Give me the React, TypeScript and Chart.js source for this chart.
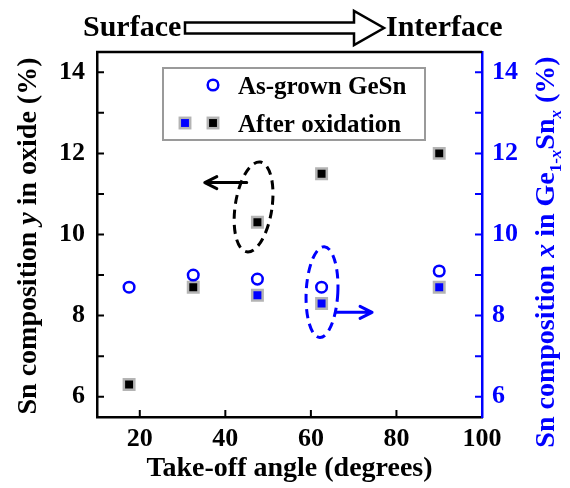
import React, { useEffect, useRef } from "react";
import { Chart, registerables } from "chart.js";

Chart.register(...registerables);

// ---- data ----
const angles = [17.5, 32.5, 47.5, 62.5, 90];
const asGrownX = [8.7, 9.0, 8.9, 8.7, 9.1];
const oxideY = [6.3, 8.7, 10.3, 11.5, 12.0];
const oxidizedAngles = [47.5, 62.5, 90];
const oxidizedX = [8.5, 8.3, 8.7];

const xTicks = [20, 40, 60, 80, 100];
const yTicks = [6, 8, 10, 12, 14];
const yMinorTicks = [6, 7, 8, 9, 10, 11, 12, 13, 14];

// annotation geometry (data units)
const leftEllipse = { x: 46.6, y: 10.68, rx: 4.3, ry: 1.12, rot: 0.15 };
const leftArrow = { y: 11.28, from: 45.0, to: 35.2 };
const rightEllipse = { x: 62.6, y: 8.58, rx: 3.7, ry: 1.12, rot: 0.05 };
const rightArrow = { y: 8.08, from: 66.0, to: 74.3 };

const BLUE = "#0000ff";
const FONT = '"Liberation Serif", "Times New Roman", serif';

type Seg = { t: string; it?: boolean; sub?: boolean };

function drawRich(ctx: CanvasRenderingContext2D, segs: Seg[], cx: number, cy: number, size: number, color: string) {
  const subSize = Math.round(size * 0.62);
  const fontOf = (s: Seg) => `${s.it ? "italic " : ""}bold ${s.sub ? subSize : size}px ${FONT}`;
  let total = 0;
  const widths = segs.map((s) => {
    ctx.font = fontOf(s);
    const w = ctx.measureText(s.t).width;
    total += w;
    return w;
  });
  ctx.save();
  ctx.translate(cx, cy);
  ctx.rotate(-Math.PI / 2);
  ctx.fillStyle = color;
  ctx.textBaseline = "alphabetic";
  ctx.textAlign = "left";
  let x = -total / 2;
  const base = size * 0.33;
  segs.forEach((s, i) => {
    ctx.font = fontOf(s);
    ctx.fillText(s.t, x, base + (s.sub ? size * 0.25 : 0));
    x += widths[i];
  });
  ctx.restore();
}

const decorPlugin = {
  id: "decor",
  afterDraw(chart: any) {
    const ctx: CanvasRenderingContext2D = chart.ctx;
    const xs = chart.scales.x;
    const yl = chart.scales.yL;
    const yr = chart.scales.yR;
    const area = chart.chartArea;

    ctx.save();
    // top frame line
    ctx.strokeStyle = "#000";
    ctx.lineWidth = 2.5;
    ctx.beginPath();
    ctx.moveTo(area.left - 1, area.top);
    ctx.lineTo(area.right, area.top);
    ctx.stroke();

    // inward ticks
    ctx.lineWidth = 2;
    ctx.beginPath();
    yMinorTicks.forEach((v) => {
      const p = yl.getPixelForValue(v);
      ctx.moveTo(area.left, p);
      ctx.lineTo(area.left + 7, p);
    });
    xTicks.forEach((v) => {
      if (v >= 100) return;
      const p = xs.getPixelForValue(v);
      ctx.moveTo(p, area.bottom);
      ctx.lineTo(p, area.bottom - 7);
    });
    ctx.stroke();
    ctx.strokeStyle = BLUE;
    ctx.beginPath();
    yMinorTicks.forEach((v) => {
      const p = yr.getPixelForValue(v);
      ctx.moveTo(area.right, p);
      ctx.lineTo(area.right - 7, p);
    });
    ctx.stroke();

    // dashed ellipses + arrows
    const drawEllipse = (e: any, color: string) => {
      const cx = xs.getPixelForValue(e.x);
      const cy = yl.getPixelForValue(e.y);
      const rx = Math.abs(xs.getPixelForValue(e.x + e.rx) - cx);
      const ry = Math.abs(yl.getPixelForValue(e.y + e.ry) - cy);
      ctx.save();
      ctx.strokeStyle = color;
      ctx.lineWidth = 3;
      ctx.setLineDash([9, 6]);
      ctx.beginPath();
      ctx.ellipse(cx, cy, rx, ry, e.rot, 0, Math.PI * 2);
      ctx.stroke();
      ctx.restore();
    };
    const drawArrow = (a: any, color: string) => {
      const y = yl.getPixelForValue(a.y);
      const x1 = xs.getPixelForValue(a.from);
      const x2 = xs.getPixelForValue(a.to);
      const dir = x2 > x1 ? 1 : -1;
      ctx.save();
      ctx.strokeStyle = color;
      ctx.lineWidth = 3;
      ctx.lineCap = "round";
      ctx.lineJoin = "round";
      ctx.beginPath();
      ctx.moveTo(x1, y);
      ctx.lineTo(x2, y);
      ctx.moveTo(x2 - dir * 12, y - 6);
      ctx.lineTo(x2, y);
      ctx.lineTo(x2 - dir * 12, y + 6);
      ctx.stroke();
      ctx.restore();
    };
    drawEllipse(leftEllipse, "#000");
    drawArrow(leftArrow, "#000");
    drawEllipse(rightEllipse, BLUE);
    drawArrow(rightArrow, BLUE);

    // legend
    ctx.strokeStyle = "#9a9a9a";
    ctx.lineWidth = 2;
    ctx.strokeRect(163, 68, 262, 72);
    ctx.strokeStyle = BLUE;
    ctx.lineWidth = 2.5;
    ctx.beginPath();
    ctx.arc(213, 85, 5.3, 0, Math.PI * 2);
    ctx.stroke();
    const sq = (x: number, y: number, fill: string) => {
      ctx.fillStyle = fill;
      ctx.fillRect(x - 5.2, y - 5.2, 10.4, 10.4);
      ctx.strokeStyle = "#b4b4b4";
      ctx.lineWidth = 2.5;
      ctx.strokeRect(x - 5.2, y - 5.2, 10.4, 10.4);
    };
    sq(185, 123, BLUE);
    sq(213, 123, "#000");
    ctx.fillStyle = "#000";
    ctx.font = `bold 25px ${FONT}`;
    ctx.textAlign = "left";
    ctx.textBaseline = "alphabetic";
    ctx.fillText("As-grown GeSn", 238, 93.5);
    ctx.fillText("After oxidation", 238, 131.5);

    // header
    ctx.font = `bold 30px ${FONT}`;
    ctx.fillText("Surface", 83, 36);
    ctx.fillText("Interface", 386, 36);
    ctx.beginPath();
    ctx.moveTo(185, 22.5);
    ctx.lineTo(354, 22.5);
    ctx.lineTo(354, 11);
    ctx.lineTo(384, 28);
    ctx.lineTo(354, 45);
    ctx.lineTo(354, 33.5);
    ctx.lineTo(185, 33.5);
    ctx.closePath();
    ctx.fillStyle = "#fff";
    ctx.fill();
    ctx.strokeStyle = "#000";
    ctx.lineWidth = 2.5;
    ctx.stroke();

    // y titles
    drawRich(ctx, [{ t: "Sn composition " }, { t: "y", it: true }, { t: " in oxide (%)" }], 27, 236, 28, "#000");
    drawRich(
      ctx,
      [
        { t: "Sn composition " },
        { t: "x", it: true },
        { t: " in Ge" },
        { t: "1-", sub: true },
        { t: "x", sub: true, it: true },
        { t: "Sn" },
        { t: "x", sub: true, it: true },
        { t: " (%)" },
      ],
      545,
      252,
      28,
      BLUE
    );
    ctx.restore();
  },
};

export default function App() {
  const ref = useRef<HTMLCanvasElement | null>(null);
  useEffect(() => {
    if (!ref.current) return;
    const tickFont = { family: FONT, size: 26, weight: "bold" as const };
    const chart = new Chart(ref.current, {
      type: "scatter",
      data: {
        datasets: [
          {
            label: "As-grown GeSn",
            data: angles.map((a, i) => ({ x: a, y: asGrownX[i] })),
            yAxisID: "yR",
            pointStyle: "circle",
            pointRadius: 5.3,
            borderWidth: 2.5,
            borderColor: BLUE,
            backgroundColor: "rgba(0,0,0,0)",
          },
          {
            label: "After oxidation (GeSn)",
            data: oxidizedAngles.map((a, i) => ({ x: a, y: oxidizedX[i] })),
            yAxisID: "yR",
            pointStyle: "rect",
            pointRadius: 7.4,
            borderWidth: 2.5,
            borderColor: "#b4b4b4",
            backgroundColor: BLUE,
          },
          {
            label: "After oxidation (oxide)",
            data: angles.map((a, i) => ({ x: a, y: oxideY[i] })),
            yAxisID: "yL",
            pointStyle: "rect",
            pointRadius: 7.4,
            borderWidth: 2.5,
            borderColor: "#b4b4b4",
            backgroundColor: "#000",
          },
        ],
      },
      options: {
        responsive: false,
        animation: false,
        events: [],
        layout: { padding: { top: 52, left: 0, right: 0, bottom: 0 } },
        plugins: { legend: { display: false }, tooltip: { enabled: false } },
        scales: {
          x: {
            type: "linear",
            position: "bottom",
            min: 10,
            max: 100,
            afterBuildTicks: (s: any) => {
              s.ticks = xTicks.map((v) => ({ value: v }));
            },
            afterFit: (s: any) => {
              s.height = 71;
            },
            grid: { display: false, drawTicks: false },
            border: { display: true, color: "#000", width: 2.5 },
            ticks: { color: "#000", font: tickFont, padding: 7, maxRotation: 0, autoSkip: false },
            title: {
              display: true,
              text: "Take-off angle (degrees)",
              color: "#000",
              font: { family: FONT, size: 28, weight: "bold" },
              padding: { top: 0, bottom: 2 },
            },
          },
          yL: {
            type: "linear",
            position: "left",
            min: 5.5,
            max: 14.5,
            afterBuildTicks: (s: any) => {
              s.ticks = yTicks.map((v) => ({ value: v }));
            },
            afterFit: (s: any) => {
              s.width = 97;
            },
            grid: { display: false, drawTicks: false },
            border: { display: true, color: "#000", width: 2.5 },
            ticks: { color: "#000", font: tickFont, padding: 12, autoSkip: false },
          },
          yR: {
            type: "linear",
            position: "right",
            min: 5.5,
            max: 14.5,
            afterBuildTicks: (s: any) => {
              s.ticks = yTicks.map((v) => ({ value: v }));
            },
            afterFit: (s: any) => {
              s.width = 88;
            },
            grid: { display: false, drawTicks: false },
            border: { display: true, color: BLUE, width: 2.5 },
            ticks: { color: BLUE, font: tickFont, padding: 10, autoSkip: false },
          },
        },
      },
      plugins: [decorPlugin],
    } as any);
    return () => chart.destroy();
  }, []);
  return (
    <div style={{ position: "absolute", left: 0, top: 0, width: 570, height: 488, background: "#fff" }}>
      <canvas ref={ref} width={570} height={488} style={{ display: "block" }} />
    </div>
  );
}
